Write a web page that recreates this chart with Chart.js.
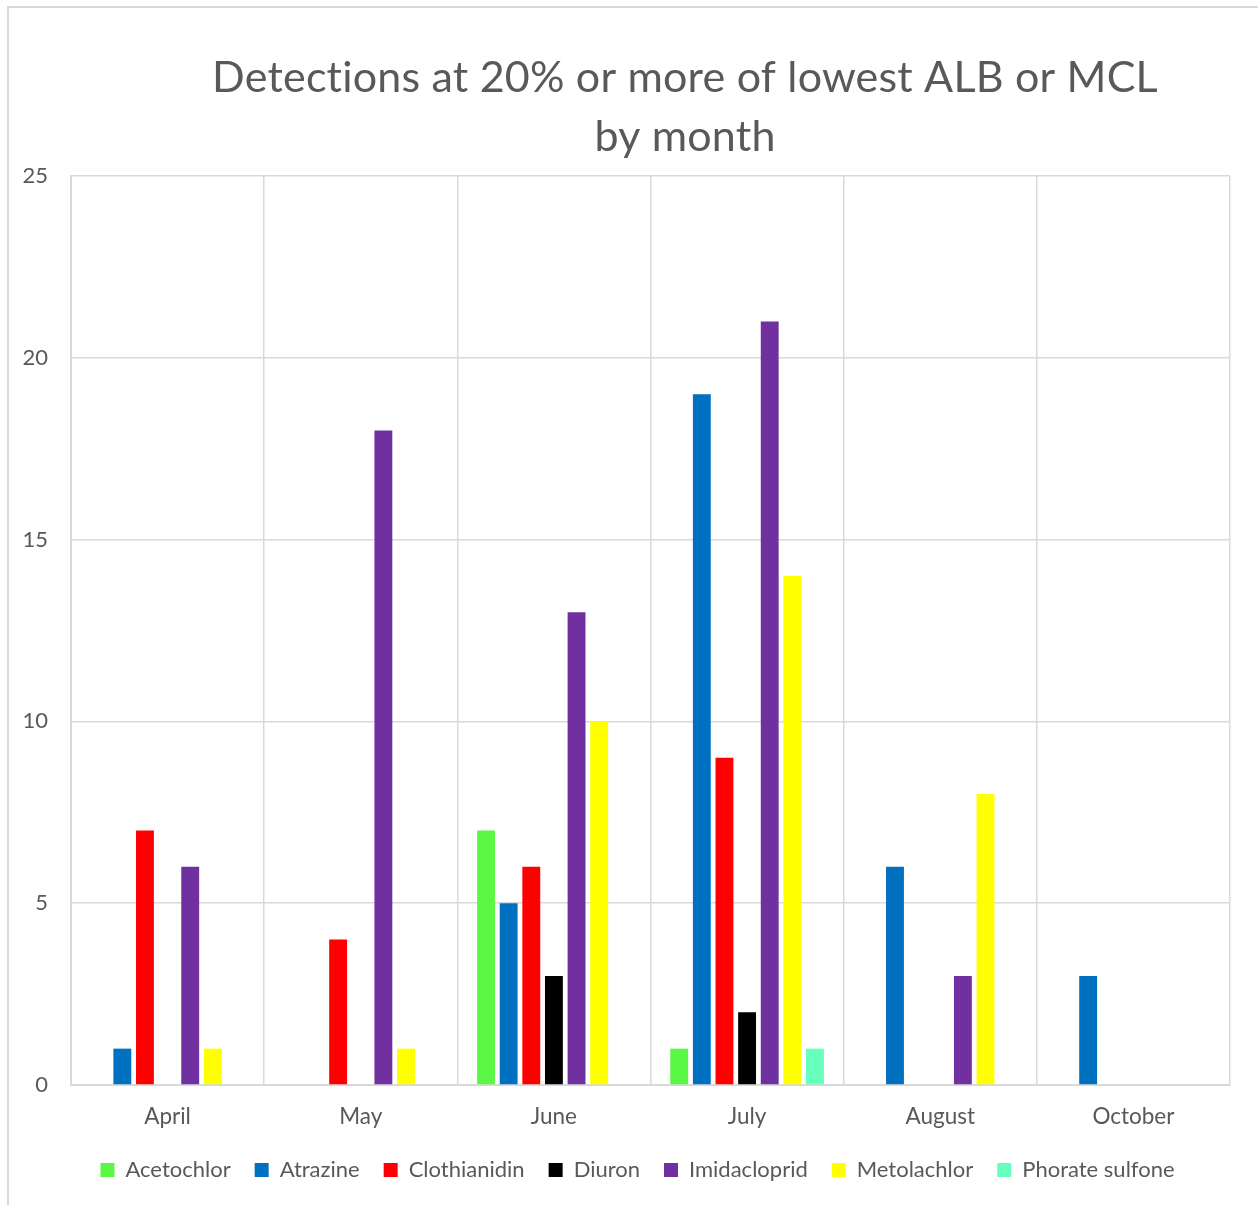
<!DOCTYPE html>
<html>
<head>
<meta charset="utf-8">
<script src="https://cdn.jsdelivr.net/npm/chart.js@4/dist/chart.umd.min.js"></script>
<style>
  html, body { margin: 0; padding: 0; background: #fff; overflow: hidden; }
  #frame {
    position: absolute; left: 7px; top: 6px; width: 1270px; height: 1220px;
    border: 2px solid #d9d9d9; box-sizing: border-box;
  }
  #wrap { position: absolute; left: 9px; top: 8px; width: 1259px; height: 1197px; }
</style>
</head>
<body>
<div id="frame"></div>
<div id="wrap"><canvas id="detChart"></canvas></div>
<script>
// categories (months)
const months = ["April", "May", "June", "July", "August", "October"];

// series values, null where nothing is drawn
const acetochlor   = [null, null, 7, 1, null, null];
const atrazine     = [1, null, 5, 19, 6, 3];
const clothianidin = [7, 4, 6, 9, null, null];
const diuron       = [null, null, 3, 2, null, null];
const imidacloprid = [6, 18, 13, 21, 3, null];
const metolachlor  = [1, 1, 10, 14, 8, null];
const phorate      = [null, null, null, 1, null, null];

const yTicks = [0, 5, 10, 15, 20, 25];

const titleLines = ["Detections at 20% or more of lowest ALB or MCL", "by month"];

const textColor = "#595959";
const gridColor = "#d9d9d9";
const fontFam = "Lato, 'Open Sans', sans-serif";

function ds(label, data, color) {
  return {
    label: label,
    data: data,
    backgroundColor: color,
    borderColor: color,
    borderWidth: 0,
    categoryPercentage: 0.82,
    barPercentage: 0.79
  };
}

// title drawn a bit right of center like the original,
// and legend nudged so it sits centred on the whole frame
const titlePlugin = {
  id: "titlePlugin",
  afterLayout(chart) {
    const lg = chart.legend;
    if (lg) {
      lg.left += 18; lg.right += 18;
      lg.top -= 13; lg.bottom -= 13;
    }
  },
  afterDraw(chart) {
    const ctx = chart.ctx;
    ctx.save();
    ctx.fillStyle = textColor;
    ctx.font = "43px " + fontFam;
    ctx.letterSpacing = "0.2px";
    ctx.textAlign = "center";
    ctx.textBaseline = "middle";
    ctx.fillText(titleLines[0], 676, 70);
    ctx.fillText(titleLines[1], 676, 129);
    ctx.restore();
  }
};

const ctx = document.getElementById("detChart").getContext("2d");
new Chart(ctx, {
  type: "bar",
  data: {
    labels: months,
    datasets: [
      ds("Acetochlor", acetochlor, "#5BF745"),
      ds("Atrazine", atrazine, "#0070C0"),
      ds("Clothianidin", clothianidin, "#FF0000"),
      ds("Diuron", diuron, "#000000"),
      ds("Imidacloprid", imidacloprid, "#7030A0"),
      ds("Metolachlor", metolachlor, "#FFFF00"),
      ds("Phorate sulfone", phorate, "#66FFBB")
    ]
  },
  options: {
    responsive: true,
    maintainAspectRatio: false,
    animation: false,
    layout: { padding: { top: 168, right: 38, left: 0, bottom: 1 } },
    scales: {
      x: {
        grid: { color: gridColor, lineWidth: 1.5, drawTicks: false },
        border: { color: gridColor, width: 2 },
        ticks: { color: textColor, font: { family: fontFam, size: 22.5 }, padding: 18 }
      },
      y: {
        min: 0,
        max: 25,
        afterBuildTicks: function(axis) {
          axis.ticks = yTicks.map(v => ({ value: v }));
        },
        afterFit: function(axis) { axis.width = 62; },
        grid: { color: gridColor, lineWidth: 1.5, drawTicks: false },
        border: { color: gridColor, width: 2 },
        ticks: { color: textColor, font: { family: fontFam, size: 22 }, padding: 23 }
      }
    },
    plugins: {
      legend: {
        position: "bottom",
        labels: {
          color: textColor,
          font: { family: fontFam, size: 22 },
          boxWidth: 14,
          boxHeight: 14,
          padding: 24
        }
      },
      tooltip: { enabled: false }
    }
  },
  plugins: [titlePlugin]
});
</script>
</body>
</html>
